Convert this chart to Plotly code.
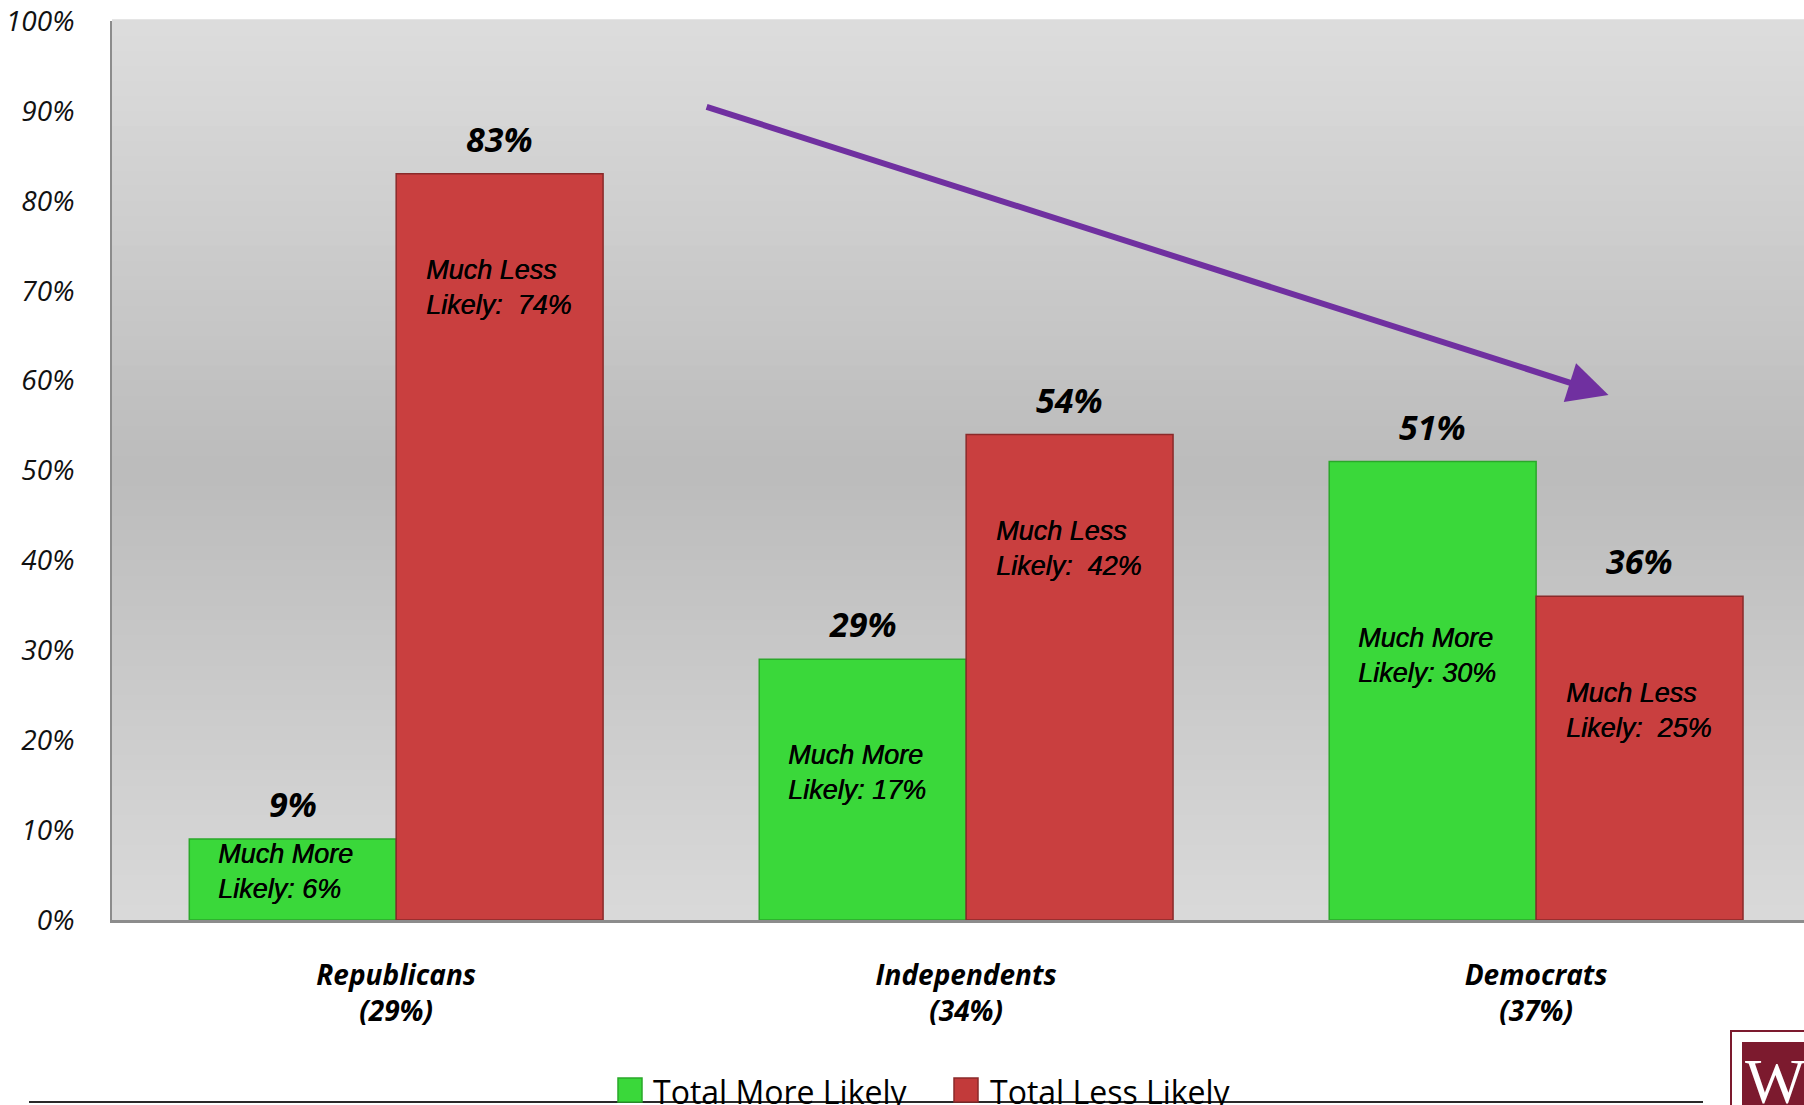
import plotly.graph_objects as go

# ---------------- data ----------------
categories = ["Republicans", "Independents", "Democrats"]
category_share = ["29%", "34%", "37%"]
total_more_likely = [9, 29, 51]
total_less_likely = [83, 54, 36]
much_more_likely = [6, 17, 30]
much_less_likely = [74, 42, 25]
y_ticks = [0, 10, 20, 30, 40, 50, 60, 70, 80, 90, 100]
series_names = ["Total More Likely", "Total Less Likely"]

# ---------------- style ----------------
W, H = 1804, 1105
ML, MR, MT, MB = 112, 0, 21, 185
PW, PH = W - ML - MR, H - MT - MB
FONT = "Open Sans"
LABEL_FONT = "Liberation Sans"
GREEN, GREEN_LINE = "#3ad83a", "#2aa82a"
RED, RED_LINE = "#c93f3f", "#8a2a2a"
PURPLE = "#7030a0"
MAROON = "#7c1a2e"
BARGAP = 0.274
BAR_W = (1 - BARGAP) / 2
X_RANGE = [-0.4986, 2.47]


def px_x(px):
    return (px - ML) / PW


def px_y(py):
    return (H - MB - py) / PH


fig = go.Figure()
fig.add_trace(go.Bar(
    x=categories, y=total_more_likely, name=series_names[0],
    marker=dict(color=GREEN, line=dict(color=GREEN_LINE, width=1.5)),
    showlegend=False, hoverinfo="skip",
))
fig.add_trace(go.Bar(
    x=categories, y=total_less_likely, name=series_names[1],
    marker=dict(color=RED, line=dict(color=RED_LINE, width=1.5)),
    showlegend=False, hoverinfo="skip",
))

shapes = []
# gradient background stripes (decoration)
n = 60
stops = [(0.0, 221), (0.5, 187), (1.0, 218)]


def grey_at(t):
    for (t0, c0), (t1, c1) in zip(stops[:-1], stops[1:]):
        if t0 <= t <= t1:
            return c0 + (c1 - c0) * (t - t0) / (t1 - t0)
    return stops[-1][1]


for k in range(n):
    y0, y1 = k / n, (k + 1) / n
    g = int(round(grey_at(1 - (y0 + y1) / 2)))
    shapes.append(dict(type="rect", xref="paper", yref="paper", x0=0, x1=1,
                       y0=y0, y1=y1 + 0.002, layer="below",
                       line=dict(width=0), fillcolor=f"rgb({g},{g},{g})"))

# bottom black rule
shapes.append(dict(type="line", xref="paper", yref="paper",
                   x0=px_x(29), x1=px_x(1703), y0=px_y(1102), y1=px_y(1102),
                   line=dict(color="#2a2a2a", width=2)))

# manual legend squares
legend_sq = [(618, GREEN, GREEN_LINE), (954, "#c23a3a", RED_LINE)]
for lx, col, lcol in legend_sq:
    shapes.append(dict(type="rect", xref="paper", yref="paper",
                       x0=px_x(lx), x1=px_x(lx + 24), y0=px_y(1102), y1=px_y(1078),
                       fillcolor=col, line=dict(color=lcol, width=1.5)))

# logo box
shapes.append(dict(type="rect", xref="paper", yref="paper",
                   x0=px_x(1731), x1=px_x(1830), y0=px_y(1130), y1=px_y(1031),
                   fillcolor="white", line=dict(color=MAROON, width=2)))
shapes.append(dict(type="rect", xref="paper", yref="paper",
                   x0=px_x(1742), x1=px_x(1830), y0=px_y(1130), y1=px_y(1042),
                   fillcolor=MAROON, line=dict(width=0)))

annotations = []
# value labels above bars
for i, (gm, rl) in enumerate(zip(total_more_likely, total_less_likely)):
    for off, val in ((-BAR_W / 2, gm), (BAR_W / 2, rl)):
        annotations.append(dict(
            x=i + off, y=val, xref="x", yref="y", text=f"{val}%",
            showarrow=False, yanchor="bottom", xanchor="center", yshift=10,
            font=dict(family=FONT, size=34, color="black", style="italic", weight="bold"),
        ))
# inside labels
label_font = dict(family=LABEL_FONT, size=27, color="black", style="italic",
                  shadow="0.5px 0px 0px black")
for i, (mm, ml, tl) in enumerate(zip(much_more_likely, much_less_likely, total_less_likely)):
    annotations.append(dict(
        x=i - BAR_W, y=mm, xref="x", yref="y", xshift=27, yshift=-5,
        text=f"Much More<br>Likely: {mm}%", showarrow=False,
        xanchor="left", yanchor="middle", align="left", font=label_font,
    ))
    annotations.append(dict(
        x=i, y=tl, xref="x", yref="y", xshift=28, yshift=-114,
        text=f"Much Less<br>Likely:\u00a0 {ml}%", showarrow=False,
        xanchor="left", yanchor="middle", align="left", font=label_font,
    ))

# trend arrow
annotations.append(dict(
    x=2.127, y=58.4, ax=0.542, ay=90.5, xref="x", yref="y", axref="x", ayref="y",
    text="", showarrow=True, arrowhead=2, arrowsize=1.35, arrowwidth=6,
    arrowcolor=PURPLE, standoff=0,
))

# legend text
for lx, name in zip((651, 988), series_names):
    annotations.append(dict(
        x=px_x(lx), y=px_y(1091), xref="paper", yref="paper", text=name,
        showarrow=False, xanchor="left", yanchor="middle",
        font=dict(family=FONT, size=32, color="black"),
    ))

# logo letters
annotations.append(dict(
    x=px_x(1743), y=px_y(1044), xref="paper", yref="paper", text="WF",
    showarrow=False, xanchor="left", yanchor="top",
    font=dict(family="Liberation Serif", size=64, color="white"),
))

fig.update_layout(
    width=W, height=H, autosize=False,
    margin=dict(l=ML, r=MR, t=MT, b=MB, pad=0),
    paper_bgcolor="white", plot_bgcolor="#c8c8c8",
    barmode="group", bargap=BARGAP, bargroupgap=0,
    shapes=shapes, annotations=annotations,
    showlegend=False, hovermode=False,
    xaxis=dict(
        type="category", range=X_RANGE,
        tickvals=categories,
        ticktext=[f"{c}<br>({s})" for c, s in zip(categories, category_share)],
        tickfont=dict(family=FONT, size=28, color="black", style="italic", weight="bold"),
        showgrid=False, zeroline=False, showline=True, linecolor="#8c8c8c", linewidth=3,
        ticks="", ticklabelstandoff=28, fixedrange=True,
    ),
    yaxis=dict(
        range=[0, 100], tickvals=y_ticks, ticktext=[f"{v}%" for v in y_ticks],
        tickfont=dict(family=FONT, size=28, color="#111111", style="italic"),
        showgrid=False, zeroline=False, showline=True, linecolor="#8c8c8c", linewidth=2,
        ticks="", ticklabelstandoff=30, fixedrange=True,
    ),
)

fig.write_html(
    "out.html",
    config={"displayModeBar": False, "staticPlot": True},
    post_script="document.body.style.margin='0px';document.body.style.overflow='hidden';",
)
